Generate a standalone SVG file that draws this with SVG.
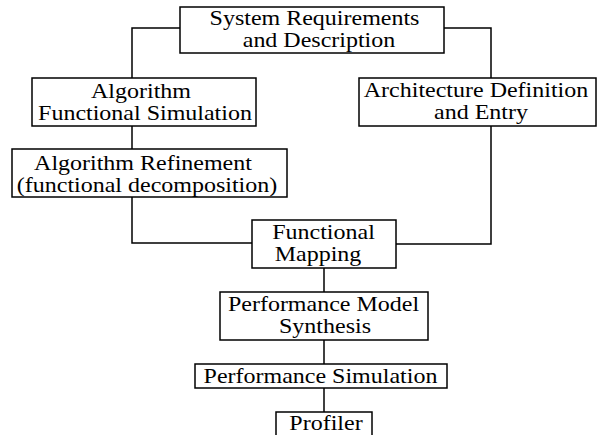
<svg xmlns="http://www.w3.org/2000/svg" width="597" height="435" viewBox="0 0 597 435">
<style>
.box{fill:#fff;stroke:#000;stroke-width:1.5}
.con{fill:none;stroke:#000;stroke-width:1.5}
.t{font-family:'Liberation Serif','Times New Roman','DejaVu Serif',serif;font-size:20px;text-anchor:middle;fill:#000}
</style>
<rect width="597" height="435" fill="#fff"/>
<g id="connectors">
<polyline class="con" points="180,28 132,28 132,78"/>
<line class="con" x1="132" y1="126" x2="132" y2="149"/>
<polyline class="con" points="132,197 132,243 252,243"/>
<polyline class="con" points="444,28 491,28 491,78"/>
<polyline class="con" points="491,126 491,244 396,244"/>
<line class="con" x1="324" y1="268" x2="324" y2="292"/>
<line class="con" x1="324" y1="340" x2="324" y2="364"/>
<line class="con" x1="324" y1="388" x2="324" y2="412"/>
</g>
<g id="system">
<rect class="box" x="180" y="7" width="264" height="46"/>
<text class="t" font-family="Liberation Serif" transform="translate(314.5,25) scale(1.2,1)">System Requirements</text>
<text class="t" font-family="Liberation Serif" transform="translate(319,47) scale(1.2,1)">and Description</text>
</g>
<g id="algsim">
<rect class="box" x="32" y="78" width="224" height="48"/>
<text class="t" font-family="Liberation Serif" transform="translate(141,98) scale(1.2,1)">Algorithm</text>
<text class="t" font-family="Liberation Serif" transform="translate(145,120) scale(1.2,1)">Functional Simulation</text>
</g>
<g id="algref">
<rect class="box" x="12" y="149" width="275" height="48"/>
<text class="t" font-family="Liberation Serif" transform="translate(143,170) scale(1.2,1)">Algorithm Refinement</text>
<text class="t" font-family="Liberation Serif" transform="translate(147,192) scale(1.2,1)">(functional decomposition)</text>
</g>
<g id="arch">
<rect class="box" x="359" y="78" width="237" height="48"/>
<text class="t" font-family="Liberation Serif" transform="translate(476,97) scale(1.2,1)">Architecture Definition</text>
<text class="t" font-family="Liberation Serif" transform="translate(481,119) scale(1.2,1)">and Entry</text>
</g>
<g id="mapping">
<rect class="box" x="252" y="220" width="144" height="48"/>
<text class="t" font-family="Liberation Serif" transform="translate(323.5,239) scale(1.2,1)">Functional</text>
<text class="t" font-family="Liberation Serif" transform="translate(318,261) scale(1.2,1)">Mapping</text>
</g>
<g id="synthesis">
<rect class="box" x="220" y="292" width="208" height="48"/>
<text class="t" font-family="Liberation Serif" transform="translate(323.5,311) scale(1.2,1)">Performance Model</text>
<text class="t" font-family="Liberation Serif" transform="translate(325,333) scale(1.2,1)">Synthesis</text>
</g>
<g id="perfsim">
<rect class="box" x="195" y="364" width="252" height="24"/>
<text class="t" font-family="Liberation Serif" transform="translate(320.5,382.5) scale(1.2,1)">Performance Simulation</text>
</g>
<g id="profiler">
<rect class="box" x="276" y="412" width="96" height="30"/>
<text class="t" font-family="Liberation Serif" transform="translate(326,430) scale(1.2,1)">Profiler</text>
</g>
</svg>
